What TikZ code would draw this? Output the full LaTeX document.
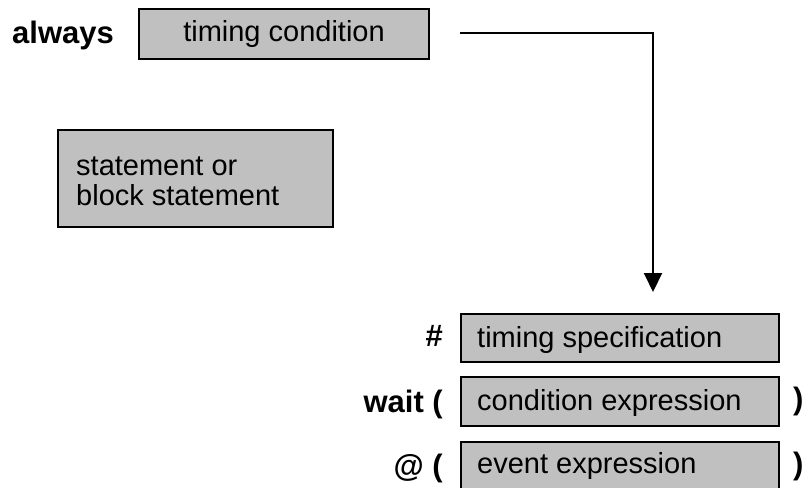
\documentclass[tikz,border=0pt]{standalone}
\usepackage{fontspec}
\setmainfont{Liberation Sans}
\usetikzlibrary{arrows.meta}
\definecolor{boxgray}{HTML}{C0C0C0}
\tikzset{
  graybox/.style={draw=black, line width=1.8pt, fill=boxgray, rectangle, inner sep=0pt},
  boxtext/.style={font=\fontsize{29}{30}\selectfont, inner sep=0pt},
  kw/.style={font=\fontsize{31}{32}\selectfont\bfseries, inner sep=0pt},
  conn/.style={line width=2pt, -{Triangle[length=19pt,width=18pt]}},
}
\begin{document}
\begin{tikzpicture}[x=1pt,y=-1pt]
\useasboundingbox (0,0) rectangle (808,487);
% always
\node[kw, anchor=west] (always) at (12,35) {always};
\node[graybox, minimum width=290pt, minimum height=50pt] (tc) at (284,34) {};
\node[boxtext] (tctext) at (284,34) {timing condition};
% statement box
\node[graybox, minimum width=275pt, minimum height=97pt] (st) at (195.5,178.5) {};
\node[boxtext, anchor=west, align=left] (sttext) at (76,181) {statement or\\block statement};
% connector
\coordinate (start) at (460,33);
\coordinate (bend) at (653,33);
\coordinate (tip) at (653,292);
\draw[conn] (start) -- (bend) -- (tip);
% bottom boxes
\node[graybox, minimum width=318pt, minimum height=48pt] (ts) at (620,338) {};
\node[boxtext, anchor=west] (tstext) at (477,340) {timing specification};
\node[graybox, minimum width=318pt, minimum height=49pt] (ce) at (620,401.5) {};
\node[boxtext, anchor=west] (cetext) at (477,403) {condition expression};
\node[graybox, minimum width=318pt, minimum height=49pt] (ee) at (620,466.5) {};
\node[boxtext, anchor=west] (eetext) at (477,466) {event expression};
% keywords
\node[kw, anchor=east] (hash) at (443,336) {\#};
\node[kw, anchor=east] (wait) at (443,404) {wait (};
\node[kw, anchor=east] (at) at (443,468) {@ (};
\node[kw, anchor=west] (cp1) at (793,401) {)};
\node[kw, anchor=west] (cp2) at (793,466) {)};
\end{tikzpicture}
\end{document}
